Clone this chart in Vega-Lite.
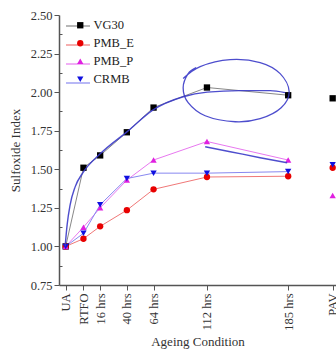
{
  "$schema": "https://vega.github.io/schema/vega-lite/v6.json",
  "width": 277,
  "height": 270,
  "autosize": "none",
  "padding": {"left": 59, "top": 15, "right": 0, "bottom": 77},
  "background": "white",
  "config": {
    "font": "Liberation Serif",
    "view": {"stroke": null},
    "axis": {
      "labelFont": "Liberation Serif",
      "titleFont": "Liberation Serif",
      "labelColor": "#333",
      "titleColor": "#333",
      "domainColor": "#555",
      "tickColor": "#555",
      "grid": false,
      "labelFontSize": 12.5,
      "titleFontSize": 13,
      "titleFontWeight": "normal",
      "labelOverlap": false
    },
    "legend": {"labelFont": "Liberation Serif", "labelFontSize": 12.5, "labelColor": "#222"}
  },
  "datasets": {
    "main": [
      {"s": "VG30", "c": "UA", "h": -15, "v": 1.0},
      {"s": "VG30", "c": "RTFO", "h": 1, "v": 1.51},
      {"s": "VG30", "c": "16 hrs", "h": 16, "v": 1.59},
      {"s": "VG30", "c": "40 hrs", "h": 40, "v": 1.74},
      {"s": "VG30", "c": "64 hrs", "h": 64, "v": 1.9},
      {"s": "VG30", "c": "112 hrs", "h": 112, "v": 2.03},
      {"s": "VG30", "c": "185 hrs", "h": 185, "v": 1.98},
      {"s": "VG30", "c": "PAV", "h": 225, "v": 1.96},
      {"s": "PMB_E", "c": "UA", "h": -15, "v": 1.0},
      {"s": "PMB_E", "c": "RTFO", "h": 1, "v": 1.05},
      {"s": "PMB_E", "c": "16 hrs", "h": 16, "v": 1.13},
      {"s": "PMB_E", "c": "40 hrs", "h": 40, "v": 1.235},
      {"s": "PMB_E", "c": "64 hrs", "h": 64, "v": 1.37},
      {"s": "PMB_E", "c": "112 hrs", "h": 112, "v": 1.45},
      {"s": "PMB_E", "c": "185 hrs", "h": 185, "v": 1.455},
      {"s": "PMB_E", "c": "PAV", "h": 225, "v": 1.51},
      {"s": "PMB_P", "c": "UA", "h": -15, "v": 1.0},
      {"s": "PMB_P", "c": "RTFO", "h": 1, "v": 1.125},
      {"s": "PMB_P", "c": "16 hrs", "h": 16, "v": 1.25},
      {"s": "PMB_P", "c": "40 hrs", "h": 40, "v": 1.43},
      {"s": "PMB_P", "c": "64 hrs", "h": 64, "v": 1.56},
      {"s": "PMB_P", "c": "112 hrs", "h": 112, "v": 1.68},
      {"s": "PMB_P", "c": "185 hrs", "h": 185, "v": 1.56},
      {"s": "PMB_P", "c": "PAV", "h": 225, "v": 1.33},
      {"s": "CRMB", "c": "UA", "h": -15, "v": 1.0},
      {"s": "CRMB", "c": "RTFO", "h": 1, "v": 1.085},
      {"s": "CRMB", "c": "16 hrs", "h": 16, "v": 1.27},
      {"s": "CRMB", "c": "40 hrs", "h": 40, "v": 1.44},
      {"s": "CRMB", "c": "64 hrs", "h": 64, "v": 1.475},
      {"s": "CRMB", "c": "112 hrs", "h": 112, "v": 1.475},
      {"s": "CRMB", "c": "185 hrs", "h": 185, "v": 1.485},
      {"s": "CRMB", "c": "PAV", "h": 225, "v": 1.53}
    ],
    "curves": [
      {"g": "a", "i": 0, "h": -15.5, "v": 1.0},
      {"g": "a", "i": 1, "h": -13.7, "v": 1.14},
      {"g": "a", "i": 2, "h": -11, "v": 1.27},
      {"g": "a", "i": 3, "h": -6.5, "v": 1.386},
      {"g": "a", "i": 4, "h": 0.7, "v": 1.48},
      {"g": "a", "i": 5, "h": 16, "v": 1.6},
      {"g": "a", "i": 6, "h": 40.3, "v": 1.744},
      {"g": "a", "i": 7, "h": 63.6, "v": 1.885},
      {"g": "a", "i": 8, "h": 90.6, "v": 1.97},
      {"g": "a", "i": 9, "h": 112.2, "v": 2.0},
      {"g": "a", "i": 10, "h": 141.8, "v": 2.01},
      {"g": "a", "i": 11, "h": 168.8, "v": 2.01},
      {"g": "a", "i": 12, "h": 182.3, "v": 1.997},
      {"g": "b", "i": 0, "h": 110.4, "v": 1.646},
      {"g": "b", "i": 1, "h": 132.9, "v": 1.614},
      {"g": "b", "i": 2, "h": 159.8, "v": 1.575},
      {"g": "b", "i": 3, "h": 184.1, "v": 1.542}
    ],
    "loop": [
      {"i": 0, "h": 90.6, "v": 2.088},
      {"i": 1, "h": 105.9, "v": 2.166},
      {"i": 2, "h": 132.9, "v": 2.211},
      {"i": 3, "h": 159.8, "v": 2.192},
      {"i": 4, "h": 177.8, "v": 2.12},
      {"i": 5, "h": 185.9, "v": 2.003},
      {"i": 6, "h": 178.7, "v": 1.899},
      {"i": 7, "h": 159.8, "v": 1.828},
      {"i": 8, "h": 137.4, "v": 1.808},
      {"i": 9, "h": 110.4, "v": 1.847},
      {"i": 10, "h": 95.1, "v": 1.932},
      {"i": 11, "h": 90.6, "v": 2.029},
      {"i": 12, "h": 95.1, "v": 2.12},
      {"i": 13, "h": 102.3, "v": 2.159}
    ]
  },
  "layer": [
    {
      "data": {"name": "main"},
      "transform": [{"filter": "datum.c != 'PAV'"}],
      "mark": {"type": "line", "strokeWidth": 1},
      "encoding": {
        "x": {
          "field": "h",
          "type": "quantitative",
          "scale": {"domain": [-21, 228], "nice": false, "zero": false},
          "axis": {
            "values": [-15, 1, 16, 40, 64, 112, 185, 225],
            "tickCount": 30,
            "labelExpr": "datum.value == -15 ? 'UA' : datum.value == 1 ? 'RTFO' : datum.value == 225 ? 'PAV' : datum.value + ' hrs'",
            "labelAngle": -90,
            "labelOverlap": false,
            "labelBound": false,
            "title": "Ageing Condition",
            "tickSize": 5,
            "labelPadding": 3,
            "domainWidth": 1.5,
            "titlePadding": 5
          }
        },
        "y": {
          "field": "v",
          "type": "quantitative",
          "scale": {"domain": [0.75, 2.5], "nice": false, "zero": false},
          "axis": {
            "values": [0.75, 1, 1.25, 1.5, 1.75, 2, 2.25, 2.5],
            "tickCount": 30,
            "format": ".2f",
            "labelOverlap": false,
            "title": "Sulfoxide Index",
            "tickSize": 5,
            "labelPadding": 2,
            "titlePadding": 8,
            "domainWidth": 1.5
          }
        },
        "stroke": {
          "field": "s",
          "type": "nominal",
          "sort": ["VG30", "PMB_E", "PMB_P", "CRMB"],
          "scale": {"range": ["#888888", "#f07878", "#e878f0", "#8888f0"]},
          "legend": {
            "orient": "none",
            "legendX": 12,
            "legendY": 4,
            "title": null,
            "symbolType": "M-2,0L2,0",
            "symbolSize": 144,
            "symbolStrokeWidth": 1.2,
            "labelExpr": "''",
            "labelOffset": 4,
            "padding": 0,
            "rowPadding": 5
          }
        }
      }
    },
    {
      "data": {"name": "main"},
      "mark": {"type": "point", "filled": true, "size": 40, "opacity": 1},
      "encoding": {
        "x": {"field": "h", "type": "quantitative"},
        "y": {
          "field": "v",
          "type": "quantitative",
          "axis": {
            "orient": "left",
            "values": [0.875, 1.125, 1.375, 1.625, 1.875, 2.125, 2.375],
            "tickCount": 30,
            "labels": false,
            "title": null,
            "domain": false,
            "tickSize": -3
          }
        },
        "fill": {
          "field": "s",
          "type": "nominal",
          "scale": {"domain": ["VG30", "PMB_E", "PMB_P", "CRMB"], "range": ["#000000", "#e80000", "#e020e0", "#1010e0"]},
          "legend": {"orient": "none", "legendX": 15, "legendY": 4, "title": null, "symbolSize": 40, "labelOffset": 7, "padding": 0, "rowPadding": 5}
        },
        "shape": {
          "field": "s",
          "type": "nominal",
          "scale": {"domain": ["VG30", "PMB_E", "PMB_P", "CRMB"], "range": ["square", "circle", "triangle-up", "triangle-down"]},
          "legend": {"orient": "none", "legendX": 15, "legendY": 4, "title": null, "symbolSize": 40, "labelOffset": 7, "padding": 0, "rowPadding": 5}
        }
      }
    },
    {
      "data": {"name": "curves"},
      "mark": {"type": "line", "interpolate": "monotone", "color": "#3a3ac8", "strokeWidth": 1.4, "opacity": 0.9},
      "encoding": {
        "x": {"field": "h", "type": "quantitative"},
        "y": {"field": "v", "type": "quantitative", "axis": null},
        "detail": {"field": "g"},
        "order": {"field": "i"}
      }
    },
    {
      "data": {"name": "loop"},
      "mark": {"type": "line", "interpolate": "cardinal", "color": "#3a3ac8", "strokeWidth": 1.3, "opacity": 0.9},
      "encoding": {
        "x": {"field": "h", "type": "quantitative"},
        "y": {"field": "v", "type": "quantitative", "axis": null},
        "order": {"field": "i"}
      }
    }
  ],
  "resolve": {"axis": {"y": "independent"}}
}
